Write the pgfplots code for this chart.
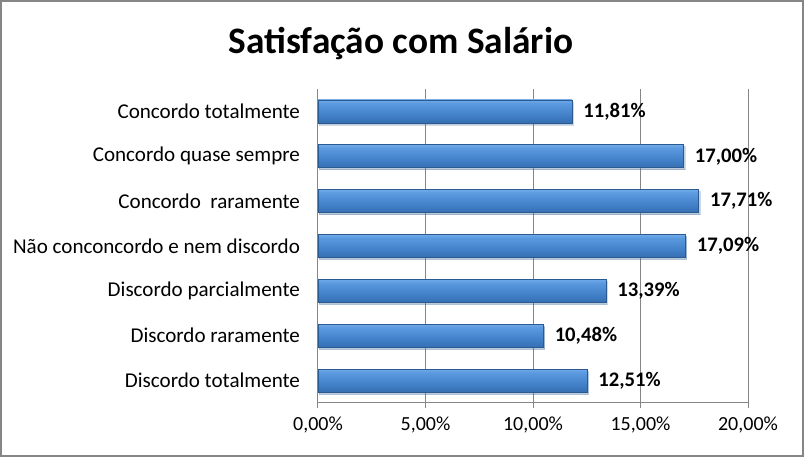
\documentclass[border=0pt]{standalone}
\usepackage{fontspec}
\setmainfont{Carlito}
\usepackage{pgfplots}
\pgfplotsset{compat=1.18}
\usetikzlibrary{shadows}
\definecolor{gridgray}{HTML}{868686}
\definecolor{baredge}{HTML}{2A5A90}
\definecolor{bardark}{HTML}{2E60A0}
\definecolor{barmid}{HTML}{4180C8}
\definecolor{barmid2}{HTML}{5C9AE0}
\definecolor{barlight}{HTML}{8AC1F4}
\definecolor{bartop}{HTML}{3D6EAC}
\pgfdeclareverticalshading{barshade}{100bp}{color(0bp)=(bardark); color(12bp)=(bardark); color(42bp)=(barmid); color(68bp)=(barmid2); color(84bp)=(barlight); color(93bp)=(barmid2); color(100bp)=(bartop)}
\pgfplotsset{barsty/.style={shading=barshade, draw=baredge, line width=0.5pt,
  drop shadow={opacity=0.22, shadow xshift=1pt, shadow yshift=-1.5pt}}}
\begin{document}
\begin{tikzpicture}
\path[use as bounding box] (0pt,0pt) rectangle (603pt,342.75pt);
\draw[gridgray, line width=1.5pt] (0.75pt,0.75pt) rectangle (602.25pt,342pt);
\node[font=\fontsize{28}{34}\selectfont\bfseries] at (300.75pt,309.75pt) {Satisfação com Salário};
\begin{axis}[
  at={(238.5pt,40.5pt)}, anchor=south west,
  scale only axis, width=322.5pt, height=235.5pt,
  xbar, bar width=17.25pt, bar shift=0pt,
  xmin=0, xmax=20, ymin=-0.5, ymax=6.5,
  axis x line*=bottom, axis y line*=left,
  axis line style={gridgray, line width=0.75pt},
  xmajorgrids, grid style={gridgray, line width=0.75pt},
  xtick={0,5,10,15,20},
  xticklabels={{0,00\%},{5,00\%},{10,00\%},{15,00\%},{20,00\%}},
  x tick label style={font=\fontsize{15}{18}\selectfont, yshift=-3pt},
  xtick style={gridgray, line width=0.75pt},
  tick align=outside, major tick length=4pt,
  ytick={0,1,2,3,4,5,6},
  yticklabels={Discordo totalmente, Discordo raramente, Discordo parcialmente, Não conconcordo e nem discordo, Concordo\ \ raramente, Concordo quase sempre, Concordo totalmente},
  y tick label style={font=\fontsize{15.8}{18}\selectfont, xshift=-6pt},
  ytick style={draw=none},
  extra y ticks={-0.5,0.5,1.5,2.5,3.5,4.5,5.5,6.5},
  extra y tick labels={},
  extra y tick style={tick style={gridgray, line width=0.75pt}, major tick length=4pt, grid=none},
  nodes near coords={\pgfmathprintnumber[fixed,fixed zerofill,precision=2,use comma,assume math mode=true]{\pgfplotspointmeta}\%},
  nodes near coords style={font=\fontsize{15.5}{18}\selectfont\bfseries, anchor=west, xshift=5pt, black},
  clip=false,
]
\addplot[barsty] coordinates {(12.51,0)};
\addplot[barsty] coordinates {(10.48,1)};
\addplot[barsty] coordinates {(13.39,2)};
\addplot[barsty] coordinates {(17.09,3)};
\addplot[barsty] coordinates {(17.71,4)};
\addplot[barsty] coordinates {(17.00,5)};
\addplot[barsty] coordinates {(11.81,6)};
\end{axis}
\end{tikzpicture}
\end{document}
